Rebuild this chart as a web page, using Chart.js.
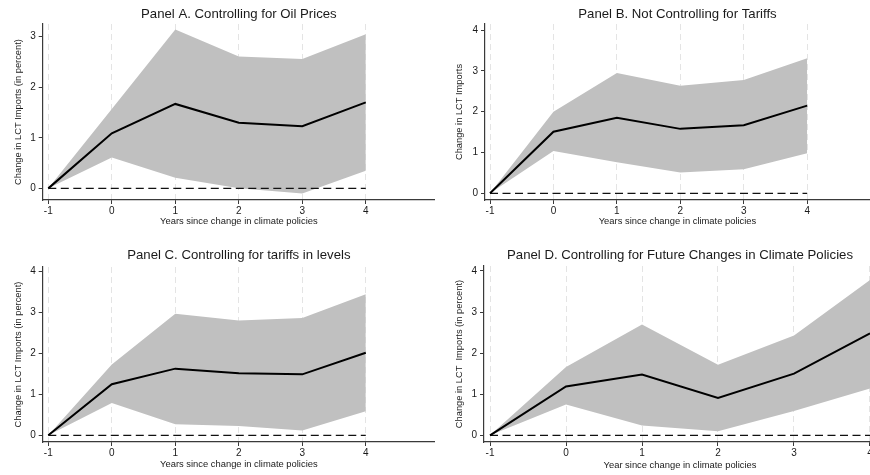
<!DOCTYPE html>
<html>
<head>
<meta charset="utf-8">
<script src="https://cdn.jsdelivr.net/npm/chart.js@4.4.0/dist/chart.umd.min.js"></script>
<style>
html, body { margin: 0; padding: 0; background: #fff; overflow: hidden; width: 870px; height: 475px; }
canvas { position: absolute; }
</style>
</head>
<body>
<canvas id="panelA"></canvas>
<canvas id="panelB"></canvas>
<canvas id="panelC"></canvas>
<canvas id="panelD"></canvas>
<script>
// Event time (years since change in climate policies)
var years = [-1, 0, 1, 2, 3, 4];
var xTicks = [-1, 0, 1, 2, 3, 4];
var yTicksA = [0, 1, 2, 3];
var yTicksBCD = [0, 1, 2, 3, 4];

// Panel A. Controlling for Oil Prices
var estA = [0, 1.09, 1.67, 1.30, 1.23, 1.70];
var upperA = [0, 1.57, 3.14, 2.61, 2.56, 3.05];
var lowerA = [0, 0.61, 0.21, 0.00, -0.10, 0.35];

// Panel B. Not Controlling for Tariffs
var estB = [0, 1.51, 1.85, 1.58, 1.67, 2.15];
var upperB = [0, 2.00, 2.95, 2.64, 2.78, 3.31];
var lowerB = [0, 1.04, 0.76, 0.51, 0.59, 0.98];

// Panel C. Controlling for tariffs in levels
var estC = [0, 1.25, 1.63, 1.52, 1.49, 2.02];
var upperC = [0, 1.73, 2.97, 2.81, 2.87, 3.45];
var lowerC = [0, 0.79, 0.27, 0.23, 0.12, 0.59];

// Panel D. Controlling for Future Changes in Climate Policies
var estD = [0, 1.19, 1.48, 0.91, 1.50, 2.48];
var upperD = [0, 1.66, 2.70, 1.72, 2.43, 3.78];
var lowerD = [0, 0.75, 0.24, 0.10, 0.59, 1.14];

var titles = [
    'Panel A. Controlling for Oil Prices',
    'Panel B. Not Controlling for Tariffs',
    'Panel C. Controlling for tariffs in levels',
    'Panel D. Controlling for Future Changes in Climate Policies'
];
var xTitles = [
    'Years since change in climate policies',
    'Years since change in climate policies',
    'Years since change in climate policies',
    'Year since change in climate policies'
];
var yTitles = [
    'Change in LCT Imports (in percent)',
    'Change in LCT Imports',
    'Change in LCT Imports (in percent)',
    'Change in LCT  Imports (in percent)'
];

var FONT = "'Liberation Sans', Arial, sans-serif";
var AXIS_COLOR = '#3a3a3a';
var TEXT_COLOR = '#1a1a1a';
var BAND_COLOR = '#c0c0c0';

function toPoints(values) {
    return years.map(function(x, i) { return {x: x, y: values[i]}; });
}

// Build one panel; box holds the layout of that panel in the page
function makePanel(id, idx, est, upper, lower, yTicks, box) {
    var canvas = document.getElementById(id);
    canvas.width = box.w;
    canvas.height = box.h;
    canvas.style.left = box.left + 'px';
    canvas.style.top = box.top + 'px';

    var zero = years.map(function() { return 0; });

    return new Chart(canvas.getContext('2d'), {
        type: 'line',
        data: {
            datasets: [{
                data: toPoints(est),
                borderColor: '#000',
                borderWidth: 2,
                pointRadius: 0,
                tension: 0,
                fill: false
            }, {
                data: toPoints(zero),
                borderColor: '#111',
                borderWidth: 1.2,
                borderDash: [8, 4.5],
                pointRadius: 0,
                fill: false
            }, {
                data: toPoints(upper),
                borderWidth: 0,
                borderColor: BAND_COLOR,
                backgroundColor: BAND_COLOR,
                pointRadius: 0,
                fill: '+1'
            }, {
                data: toPoints(lower),
                borderWidth: 0,
                borderColor: BAND_COLOR,
                pointRadius: 0,
                fill: false
            }]
        },
        options: {
            responsive: false,
            animation: false,
            events: [],
            layout: { padding: 0 },
            plugins: {
                legend: { display: false },
                tooltip: { enabled: false },
                title: {
                    display: true,
                    text: titles[idx],
                    fullSize: false,
                    color: TEXT_COLOR,
                    font: { family: FONT, size: 13.2, weight: 'normal', lineHeight: 1.2 },
                    padding: { top: box.titleY - 7.9, bottom: box.plotTop - box.titleY - 7.9 }
                }
            },
            scales: {
                x: {
                    type: 'linear',
                    min: box.xMin,
                    max: box.xMax,
                    afterBuildTicks: function(axis) {
                        axis.ticks = xTicks.map(function(v) { return {value: v}; });
                    },
                    afterFit: function(axis) {
                        axis.height = box.h - box.plotBottom;
                        axis.paddingLeft = 0;
                        axis.paddingRight = 0;
                    },
                    grid: {
                        color: '#e4e4e4',
                        lineWidth: 1,
                        drawTicks: true,
                        tickLength: 4,
                        tickColor: AXIS_COLOR,
                        tickWidth: 1
                    },
                    border: { color: AXIS_COLOR, width: 1.2, dash: [6, 4] },
                    ticks: {
                        color: TEXT_COLOR,
                        font: { family: FONT, size: 10 },
                        padding: 1,
                        maxRotation: 0,
                        autoSkip: false,
                        callback: function(v) { return String(v); }
                    },
                    title: {
                        display: true,
                        text: xTitles[idx],
                        color: TEXT_COLOR,
                        font: { family: FONT, size: 9.4, lineHeight: 1.2 },
                        padding: { top: 0, bottom: box.h - box.xTitleY - 5.6 }
                    }
                },
                y: {
                    type: 'linear',
                    min: box.yMin,
                    max: box.yMax,
                    afterBuildTicks: function(axis) {
                        axis.ticks = yTicks.map(function(v) { return {value: v}; });
                    },
                    afterFit: function(axis) {
                        axis.width = box.plotLeft;
                        axis.paddingTop = 0;
                        axis.paddingBottom = 0;
                    },
                    grid: {
                        drawOnChartArea: false,
                        drawTicks: true,
                        tickLength: 4,
                        tickColor: AXIS_COLOR,
                        tickWidth: 1
                    },
                    border: { color: AXIS_COLOR, width: 1.2 },
                    ticks: {
                        color: TEXT_COLOR,
                        font: { family: FONT, size: 10 },
                        padding: 3,
                        callback: function(v) { return String(v); }
                    },
                    title: {
                        display: true,
                        text: yTitles[idx],
                        color: TEXT_COLOR,
                        font: { family: FONT, size: 9.3, lineHeight: 1.2 },
                        padding: { top: box.yTitleX - 5.6, bottom: 0 }
                    }
                }
            }
        }
    });
}

makePanel('panelA', 0, estA, upperA, lowerA, yTicksA, {
    left: 0, top: 0, w: 435, h: 237,
    plotLeft: 42.7, plotTop: 24, plotBottom: 200,
    xMin: -1.088, xMax: 5.09, yMin: -0.23, yMax: 3.25,
    titleY: 14, xTitleY: 221, yTitleX: 18
});
makePanel('panelB', 1, estB, upperB, lowerB, yTicksBCD, {
    left: 435, top: 0, w: 435, h: 237,
    plotLeft: 50, plotTop: 24, plotBottom: 200,
    xMin: -1.079, xMax: 4.99, yMin: -0.164, yMax: 4.15,
    titleY: 14, xTitleY: 221, yTitleX: 24
});
makePanel('panelC', 2, estC, upperC, lowerC, yTicksBCD, {
    left: 0, top: 237, w: 435, h: 238,
    plotLeft: 42.7, plotTop: 30, plotBottom: 205,
    xMin: -1.088, xMax: 5.09, yMin: -0.164, yMax: 4.115,
    titleY: 18.3, xTitleY: 227, yTitleX: 18
});
makePanel('panelD', 3, estD, upperD, lowerD, yTicksBCD, {
    left: 435, top: 237, w: 441, h: 238,
    plotLeft: 49, plotTop: 29, plotBottom: 205,
    xMin: -1.079, xMax: 4.079, yMin: -0.163, yMax: 4.12,
    titleY: 18.3, xTitleY: 228, yTitleX: 24
});
</script>
</body>
</html>
